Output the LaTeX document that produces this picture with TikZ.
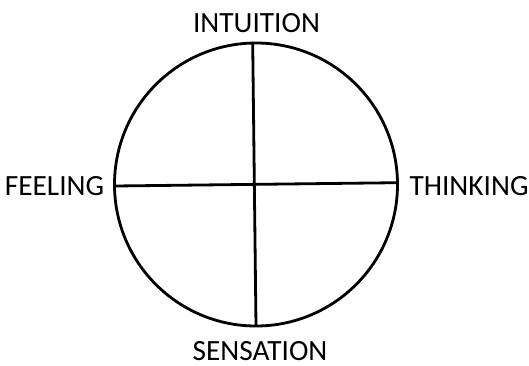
\documentclass[tikz,border=0pt]{standalone}
\usepackage{fontspec}
\setmainfont{Carlito}
\tikzset{
  axis/.style={line width=2.1pt},
  func/.style={inner sep=0pt, font=\fontsize{22}{26}\selectfont}
}
\begin{document}
\begin{tikzpicture}[x=0.75pt,y=-0.75pt]
    \useasboundingbox (0,0) rectangle (529,365);
    \node[func] (int) at (256.5,23.5){INTUITION};
    \node[func] (sen) at (260,351){SENSATION};
    \node[func] (fee) at (54.5,186.5){FEELING};
    \node[func] (thi) at (469,186.5){THINKING};

    \coordinate (top) at (252.7,43);
    \coordinate (bot) at (256,326);
    \coordinate (lft) at (115,186);
    \coordinate (rgt) at (397,182.7);
    \coordinate (mid) at (256,184.5);

    \draw[axis] (mid) circle[radius=141.5];
    \draw[axis] (top) -- (bot);
    \draw[axis] (lft) -- (rgt);
  \end{tikzpicture}
\end{document}
